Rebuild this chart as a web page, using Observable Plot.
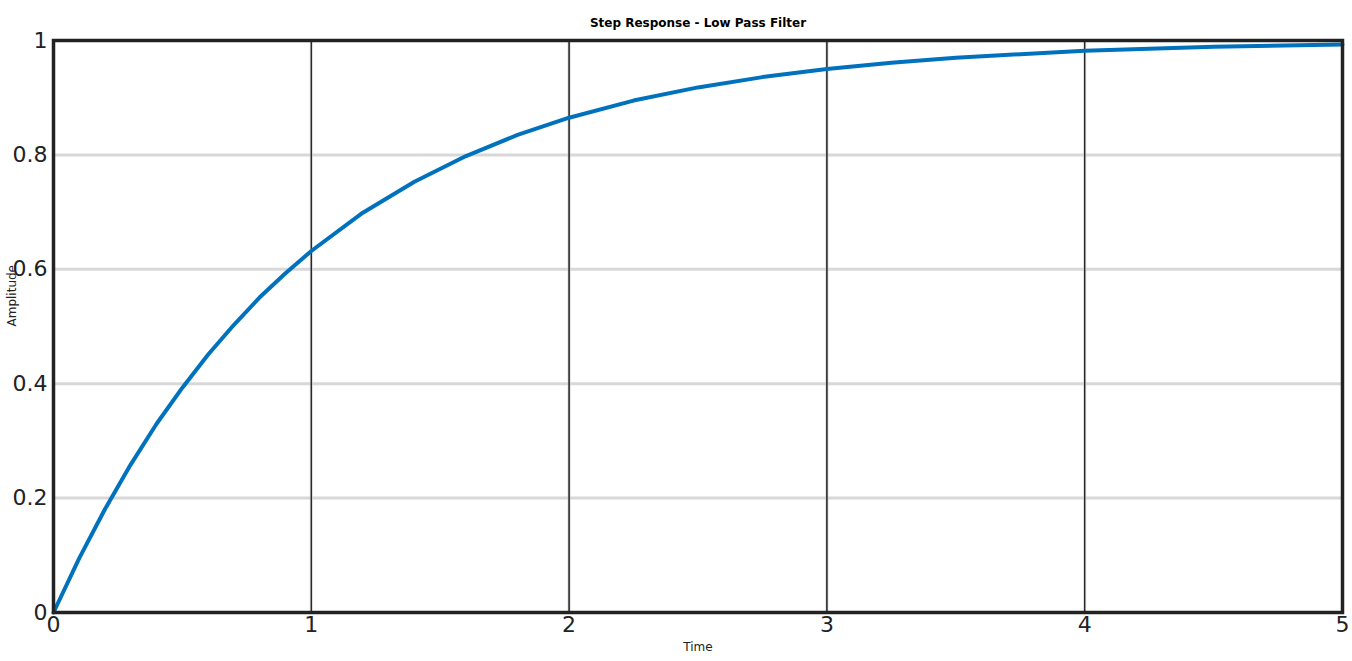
<!DOCTYPE html>
<html>
<head>
<meta charset="utf-8">
<script src="https://cdn.jsdelivr.net/npm/d3@7"></script>
<script src="https://cdn.jsdelivr.net/npm/@observablehq/plot@0.6"></script>
<style>
  body { margin: 0; background: #fff; font-family: "DejaVu Sans", sans-serif; }
</style>
</head>
<body>
<div id="chart"></div>
<script>
// Step response values
const time = [0, 0.1, 0.2, 0.3, 0.4, 0.5, 0.6, 0.7, 0.8, 0.9, 1, 1.2, 1.4, 1.6, 1.8, 2,
  2.25, 2.5, 2.75, 3, 3.25, 3.5, 3.75, 4, 4.5, 5];
const amplitude = [0, 0.095, 0.181, 0.259, 0.330, 0.393, 0.451, 0.503, 0.551, 0.593, 0.632,
  0.699, 0.753, 0.798, 0.835, 0.865, 0.895, 0.918, 0.936, 0.950, 0.961, 0.970, 0.976,
  0.982, 0.989, 0.993];
const xTicks = [0, 1, 2, 3, 4, 5];
const yTicks = [0, 0.2, 0.4, 0.6, 0.8, 1];

const data = time.map((t, i) => ({ t, a: amplitude[i] }));

const chart = Plot.plot({
  width: 1352,
  height: 661,
  marginTop: 40,
  marginLeft: 53,
  marginRight: 10,
  marginBottom: 49,
  style: { fontFamily: "DejaVu Sans", color: "#222" },
  x: { domain: [0, 5], ticks: xTicks, label: null },
  y: { domain: [0, 1], ticks: yTicks, label: null },
  marks: [
    Plot.gridX(xTicks, { stroke: "#c8c8c8", strokeOpacity: 0.7, strokeWidth: 3 }),
    Plot.gridY(yTicks, { stroke: "#c8c8c8", strokeOpacity: 0.7, strokeWidth: 3 }),
    Plot.axisX(xTicks, { tickSize: 0, tickPadding: 4, fontSize: 22, tickFormat: d => String(d) }),
    Plot.axisY(yTicks, { tickSize: 0, tickPadding: 6, fontSize: 22, tickFormat: d => String(d) }),
    Plot.tickX(xTicks, { x: d => d, y1: 0, y2: 0.012, stroke: "#222" }),
    Plot.tickX(xTicks, { x: d => d, y1: 0.988, y2: 1, stroke: "#222" }),
    Plot.line(data, { x: "t", y: "a", stroke: "#0072BD", strokeWidth: 4 }),
    Plot.frame({ stroke: "#222", strokeWidth: 3.5 }),
    Plot.text(["Step Response - Low Pass Filter"], { frameAnchor: "top", dy: -22, fontSize: 12, fontWeight: "bold", fill: "#000" }),
    Plot.text(["Time"], { frameAnchor: "bottom", dy: 38, fontSize: 12, fill: "#222" }),
    Plot.text(["Amplitude"], { frameAnchor: "left", dx: -41, rotate: -90, fontSize: 12, fill: "#222" })
  ]
});
document.getElementById("chart").append(chart);
</script>
</body>
</html>
